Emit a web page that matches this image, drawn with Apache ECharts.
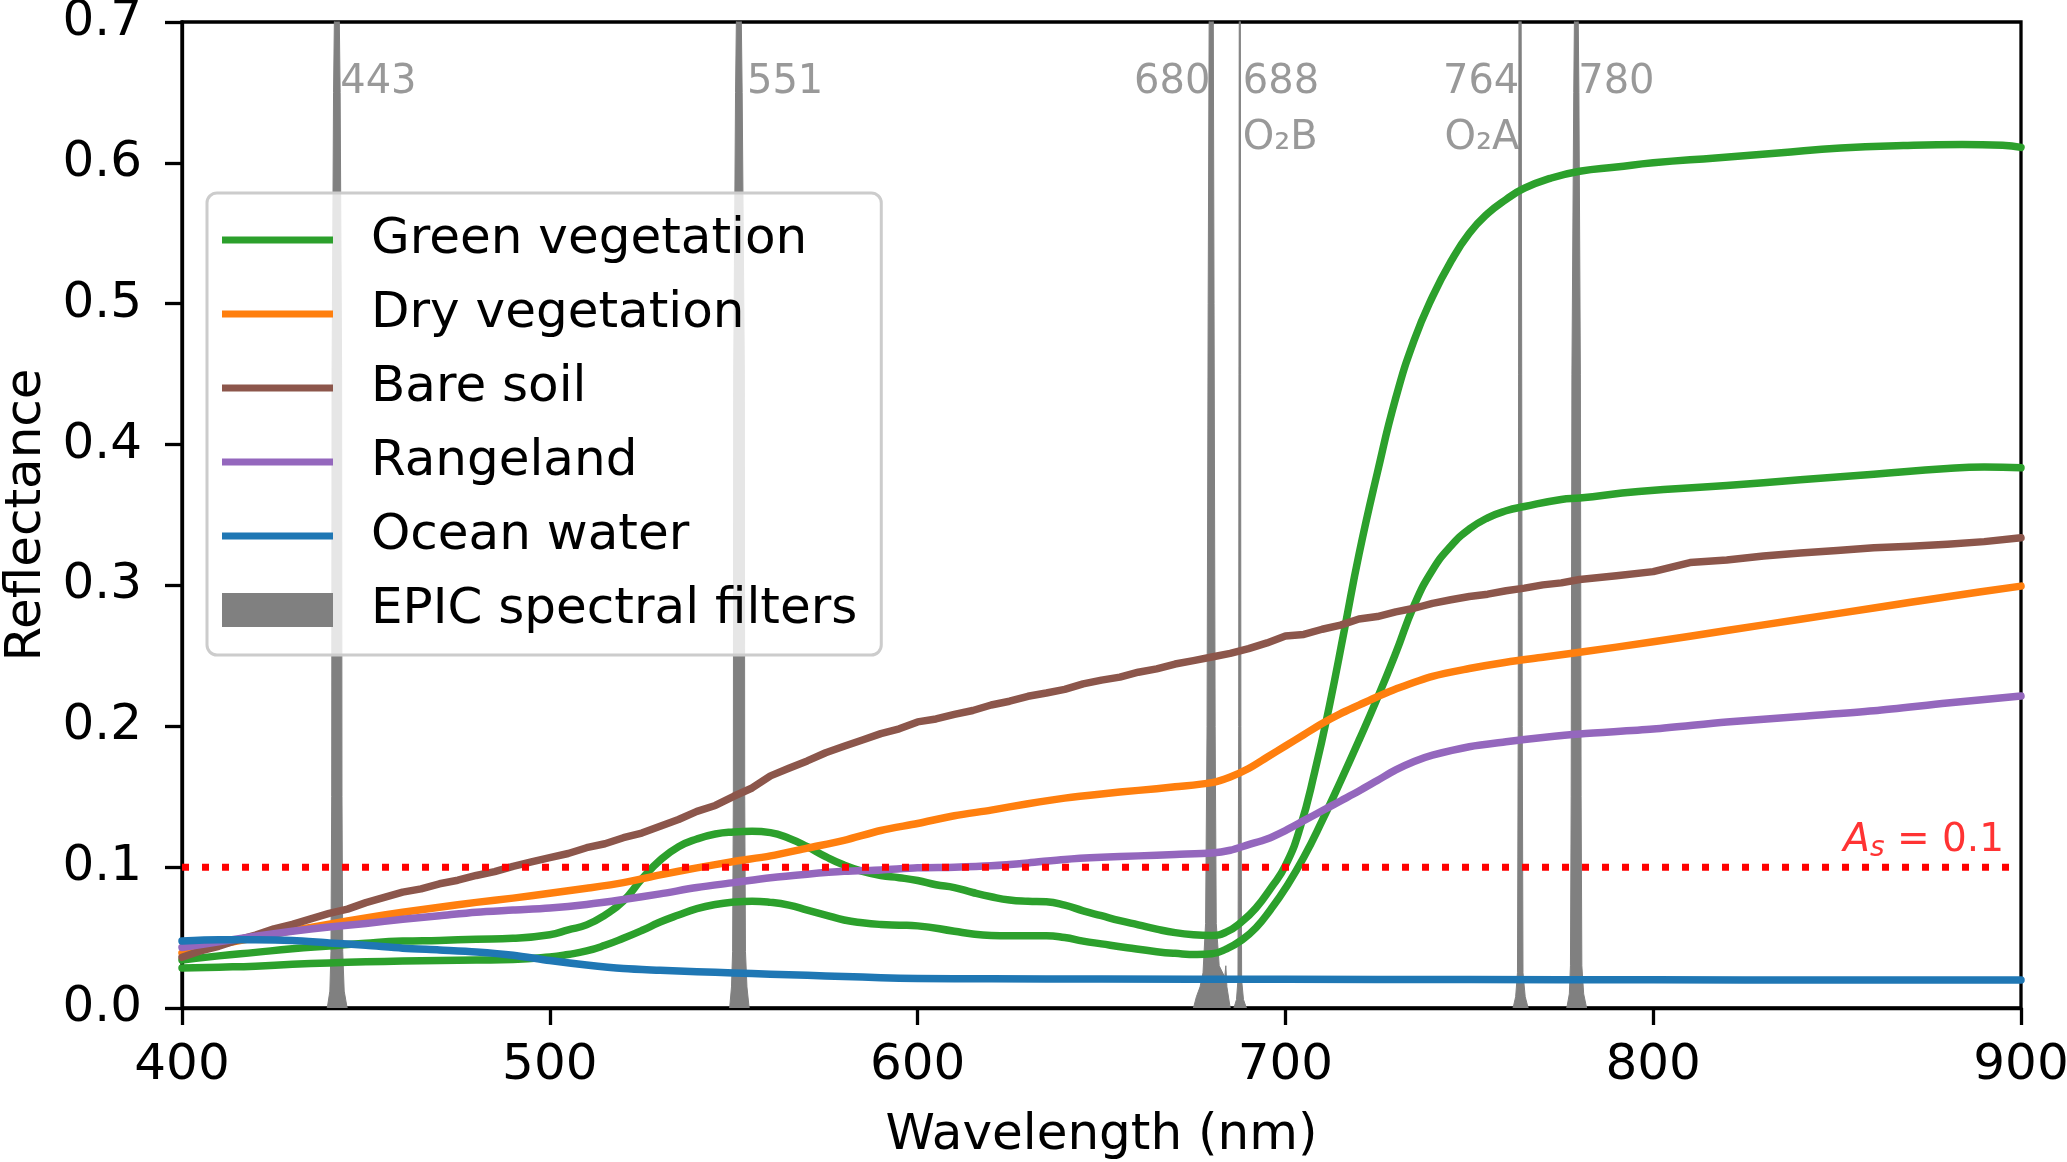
<!DOCTYPE html>
<html><head><meta charset="utf-8">
<script src="https://cdn.jsdelivr.net/npm/echarts@6.0.0/dist/echarts.min.js"></script>
<style>html,body{margin:0;padding:0;background:#fff}#c{width:2067px;height:1162px}</style>
</head><body><div id="c"></div>
<script>
// ---- data (wavelength nm, reflectance) ----
const greenVegA = [[400,0.034],[410,0.037],[420,0.0395],[430,0.042],[440,0.044],[450,0.046],[460,0.0475],[470,0.048],[480,0.0488],[490,0.0495],[500,0.052],[505,0.0555],[510,0.059],[515,0.066],[520,0.076],[525,0.0915],[530,0.105],[535,0.1145],[540,0.120],[545,0.1235],[550,0.125],[555,0.1255],[560,0.1245],[565,0.1205],[570,0.1145],[575,0.1075],[580,0.1015],[585,0.097],[590,0.094],[595,0.0925],[600,0.0905],[605,0.0875],[610,0.0855],[615,0.082],[620,0.079],[625,0.0767],[630,0.0758],[635,0.0754],[640,0.073],[645,0.069],[650,0.0655],[655,0.062],[660,0.059],[665,0.056],[670,0.0535],[675,0.052],[680,0.0515],[684,0.054],[688,0.061],[692,0.071],[696,0.085],[700,0.101],[704,0.128],[708,0.168],[712,0.215],[716,0.268],[720,0.322],[725,0.38],[730,0.433],[735,0.474],[740,0.505],[745,0.530],[750,0.550],[755,0.564],[760,0.574],[765,0.582],[772,0.589],[780,0.594],[790,0.597],[800,0.600],[817,0.6035],[834,0.607],[851,0.6105],[868,0.6123],[884,0.613],[895,0.6125],[900,0.611]];
const greenVegB = [[400,0.0284],[410,0.029],[420,0.0297],[430,0.031],[440,0.032],[450,0.0328],[460,0.0333],[470,0.0337],[480,0.034],[490,0.0344],[500,0.0362],[505,0.038],[510,0.0405],[515,0.0445],[520,0.0495],[525,0.055],[530,0.061],[535,0.066],[540,0.0705],[545,0.0735],[550,0.0752],[555,0.0758],[560,0.075],[565,0.073],[570,0.0695],[575,0.066],[580,0.0625],[585,0.0605],[590,0.0593],[595,0.0588],[600,0.0583],[610,0.0545],[615,0.0525],[620,0.0515],[625,0.0513],[635,0.0513],[640,0.050],[645,0.0475],[650,0.0455],[657,0.0428],[665,0.040],[670,0.0388],[676,0.038],[680,0.0385],[684,0.042],[688,0.048],[692,0.057],[696,0.070],[700,0.085],[705,0.107],[710,0.133],[715,0.161],[720,0.19],[725,0.22],[730,0.252],[735,0.286],[740,0.311],[745,0.328],[750,0.340],[755,0.348],[760,0.353],[765,0.356],[775,0.361],[780,0.362],[796,0.3667],[820,0.371],[840,0.375],[860,0.379],[880,0.383],[890,0.384],[900,0.3835]];
const dryVeg = [[400,0.039],[410,0.045],[420,0.050],[430,0.055],[440,0.0595],[450,0.064],[460,0.068],[470,0.0715],[480,0.075],[490,0.078],[500,0.0815],[510,0.085],[520,0.089],[530,0.0945],[540,0.0995],[550,0.104],[560,0.108],[570,0.1135],[580,0.119],[590,0.126],[600,0.131],[610,0.1365],[620,0.1405],[630,0.145],[640,0.149],[650,0.152],[660,0.1545],[670,0.157],[680,0.160],[685,0.164],[690,0.170],[695,0.178],[700,0.186],[705,0.194],[710,0.202],[715,0.209],[720,0.215],[725,0.221],[730,0.2265],[740,0.2355],[750,0.241],[760,0.2455],[770,0.249],[780,0.2525],[800,0.260],[820,0.268],[840,0.276],[860,0.284],[880,0.292],[900,0.2995]];
const bareSoil = [[400,0.036],[405,0.0405],[410,0.0438],[415,0.0482],[420,0.0518],[425,0.0562],[430,0.0594],[435,0.0633],[440,0.0672],[445,0.0702],[450,0.0748],[455,0.0786],[460,0.0823],[465,0.0846],[470,0.0882],[475,0.0907],[480,0.0941],[485,0.0968],[490,0.1006],[495,0.1038],[500,0.1068],[505,0.1097],[510,0.1138],[515,0.1166],[520,0.1209],[525,0.1242],[530,0.1291],[535,0.1338],[540,0.1396],[545,0.1438],[550,0.1503],[555,0.1562],[560,0.1648],[565,0.1702],[570,0.1754],[575,0.1812],[580,0.1858],[585,0.1903],[590,0.1948],[595,0.1982],[600,0.2031],[605,0.2052],[610,0.2084],[615,0.2112],[620,0.2151],[625,0.2178],[630,0.2213],[635,0.2236],[640,0.2262],[645,0.2301],[650,0.2328],[655,0.2349],[660,0.2384],[665,0.2408],[670,0.2442],[675,0.2466],[680,0.2492],[685,0.2518],[690,0.2551],[695,0.2592],[700,0.2641],[705,0.2652],[710,0.2689],[715,0.2718],[720,0.2762],[725,0.2779],[730,0.2812],[735,0.2838],[740,0.2873],[745,0.2898],[750,0.2921],[755,0.2938],[760,0.2962],[765,0.2981],[770,0.3004],[775,0.3018],[780,0.3042],[790,0.3068],[800,0.3098],[810,0.3162],[820,0.3181],[830,0.3209],[840,0.3231],[850,0.3248],[860,0.3268],[870,0.3279],[880,0.3293],[890,0.3311],[900,0.3338]];
const rangeland = [[400,0.043],[410,0.047],[420,0.051],[430,0.0545],[440,0.0575],[450,0.060],[460,0.063],[470,0.0655],[480,0.068],[490,0.0695],[500,0.071],[510,0.0735],[520,0.077],[530,0.081],[540,0.0855],[550,0.089],[560,0.0925],[570,0.095],[580,0.097],[590,0.098],[600,0.0995],[610,0.100],[620,0.101],[630,0.103],[640,0.1055],[650,0.107],[660,0.108],[670,0.109],[680,0.110],[685,0.112],[690,0.116],[695,0.120],[700,0.126],[705,0.133],[710,0.140],[715,0.147],[720,0.154],[725,0.1615],[730,0.169],[735,0.175],[740,0.1795],[750,0.1855],[760,0.189],[770,0.192],[780,0.1945],[800,0.198],[820,0.203],[840,0.207],[860,0.211],[880,0.2165],[900,0.2215]];
const oceanWater = [[400,0.0475],[410,0.0485],[420,0.0485],[430,0.048],[440,0.0462],[450,0.0445],[460,0.0425],[470,0.0412],[480,0.0398],[490,0.0375],[500,0.0337],[510,0.0305],[520,0.028],[530,0.0268],[540,0.0258],[550,0.0249],[560,0.024],[570,0.0232],[580,0.0224],[590,0.0215],[600,0.021],[620,0.0207],[650,0.0205],[700,0.0204],[750,0.0202],[800,0.020],[850,0.0199],[900,0.0198]];
// EPIC filter transmission profiles (normalised, peaks clipped by the 0.7 axis top)
const filter443 = [[439.5,0],[440.2,0.012],[440.5,0.04],[440.7,0.15],[440.8,0.45],[441.2,0.65],[442.1,0.85],[443.0,0.65],[443.4,0.45],[443.5,0.15],[443.7,0.04],[444.1,0.012],[444.9,0]];
const filter551 = [[548.9,0],[549.4,0.015],[549.7,0.04],[549.9,0.15],[550.0,0.45],[550.5,0.65],[551.4,0.85],[552.3,0.65],[552.9,0.45],[553.0,0.15],[553.2,0.04],[553.6,0.015],[554.2,0]];
const filter680 = [[675.0,0],[675.8,0.008],[676.8,0.015],[677.6,0.025],[678.3,0.06],[678.7,0.2],[679.0,0.5],[679.4,0.8],[679.8,1.0],[680.3,0.8],[680.6,0.5],[680.9,0.2],[681.2,0.06],[682.0,0.03],[683.5,0.022],[683.8,0.03],[684.1,0.015],[685.0,0]];
const filter688 = [[686.0,0],[686.7,0.006],[687.1,0.02],[687.3,0.2],[687.45,0.7],[687.6,1.0],[687.75,0.7],[687.9,0.2],[688.1,0.02],[688.6,0.006],[689.4,0]];
const filter764 = [[761.9,0],[762.6,0.008],[763.1,0.025],[763.3,0.2],[763.5,0.7],[763.8,1.0],[764.1,0.7],[764.4,0.2],[764.6,0.025],[765.2,0.008],[766.0,0]];
const filter780 = [[776.5,0],[777.2,0.01],[777.5,0.03],[777.7,0.15],[777.9,0.45],[778.4,0.65],[779.1,0.85],[779.8,0.65],[780.2,0.45],[780.4,0.15],[780.6,0.03],[781.1,0.01],[781.9,0]];
const filters = [filter443, filter551, filter680, filter688, filter764, filter780];
const filterLabelX = [442.6, 553.2, 680, 688, 764, 779.2];
const filterLabels = ['443', '551', '680', '688\nO\u2082B', '764\nO\u2082A', '780'];
const filterLabelSide = ['right', 'right', 'left', 'right', 'left', 'right'];
const albedoLine = [[400, 0.1], [900, 0.1]];
const xTicks = {min: 400, max: 900, step: 100};
const yTicks = {min: 0, max: 0.7, step: 0.1};
const legendNames = ['Green vegetation', 'Dry vegetation', 'Bare soil', 'Rangeland', 'Ocean water', 'EPIC spectral filters'];

const F = 'DejaVu Sans';
const LW = 7.5;
const FS = 50;
const chart = echarts.init(document.getElementById('c'), null, {renderer: 'canvas'});

function curve(name, data, color, smooth) {
  return {type: 'line', name, data, smooth: smooth, symbol: 'none', showSymbol: false, color,
    itemStyle: {color}, lineStyle: {color, width: LW, join: 'round', cap: 'round'}, z: 3, silent: true};
}

const series = [];
filters.forEach(f => series.push({
  type: 'line', name: legendNames[5], data: f, symbol: 'none', showSymbol: false, color: '#808080',
  itemStyle: {color: '#808080'},
  lineStyle: {color: '#808080', width: 1}, areaStyle: {color: '#808080', opacity: 1}, z: 1, silent: true
}));
series.push(curve(legendNames[0], greenVegA, '#2ca02c', 0.5));
series.push(curve(legendNames[0], greenVegB, '#2ca02c', 0.5));
series.push(curve(legendNames[1], dryVeg, '#ff7f0e', 0.3));
series.push(curve(legendNames[2], bareSoil, '#8c564b', false));
series.push(curve(legendNames[3], rangeland, '#9467bd', 0.3));
series.push(curve(legendNames[4], oceanWater, '#1f77b4', 0.3));
series.push({type: 'line', name: 'albedo', data: albedoLine, symbol: 'none', showSymbol: false,
  lineStyle: {color: '#ff0000', width: 7, type: [7, 13], cap: 'butt'}, z: 4, silent: true});
series.push({type: 'scatter', name: 'albedoLabel', data: [albedoLine[1]], symbolSize: 1,
  itemStyle: {color: 'rgba(0,0,0,0)'}, silent: true, z: 6,
  label: {show: true, position: 'top', align: 'right', distance: 4, offset: [-17, 0],
    formatter: '{a|A}{s|s}{b| = 0.1}',
    rich: {
      a: {fontFamily: F, fontStyle: 'italic', fontSize: 39, lineHeight: 39, color: '#ff0000', padding: [0, 0, 2, 0], verticalAlign: 'bottom'},
      s: {fontFamily: F, fontStyle: 'italic', fontSize: 28, lineHeight: 28, color: '#ff0000', verticalAlign: 'bottom'},
      b: {fontFamily: F, fontSize: 39, lineHeight: 39, color: '#ff0000', padding: [0, 0, 2, 0], verticalAlign: 'bottom'}
    }}});
series.push({type: 'scatter', name: 'filterLabels', symbolSize: 1, itemStyle: {color: 'rgba(0,0,0,0)'}, silent: true, z: 6,
  data: filterLabelX.map((c, i) => ({value: [c, 0.677], label: {position: filterLabelSide[i], formatter: filterLabels[i]}})),
  label: {show: true, color: '#808080', fontFamily: F, fontSize: 40, lineHeight: 56, verticalAlign: 'top', distance: 1}});

const axisCommon = {
  axisLine: {show: true, onZero: false, lineStyle: {color: '#000', width: 3.3}},
  axisTick: {show: true, inside: false, length: 17, lineStyle: {color: '#000', width: 3.3}},
  splitLine: {show: false},
};

const lineIcon = 'path://M0 0H111V7H0Z';
chart.setOption({
  animation: false,
  backgroundColor: '#fff',
  grid: {left: 182, right: 46, top: 22, bottom: 154, show: true, borderColor: '#000', borderWidth: 3.3,
    containLabel: false, outerBoundsMode: 'none'},
  legend: {
    orient: 'vertical', left: 207, top: 193, padding: [22, 24, 20, 15],
    itemWidth: 111, itemHeight: 34, itemGap: 24, selectedMode: false, symbolKeepAspect: true,
    itemStyle: {borderWidth: 0},
    backgroundColor: 'rgba(255,255,255,0.8)', borderColor: '#cccccc', borderWidth: 3, borderRadius: 10,
    textStyle: {fontSize: FS, fontFamily: F, color: '#000', padding: [0, 0, 0, 33]},
    data: legendNames.map((n, i) => ({name: n, icon: i === 5 ? 'rect' : lineIcon}))
  },
  xAxis: Object.assign({
    type: 'value', min: xTicks.min, max: xTicks.max, interval: xTicks.step,
    name: 'Wavelength (nm)', nameLocation: 'middle', nameGap: 103,
    nameTextStyle: {fontSize: FS, fontFamily: F, color: '#000'},
    axisLabel: {fontSize: FS, fontFamily: F, color: '#000', margin: 33}
  }, axisCommon),
  yAxis: Object.assign({
    type: 'value', min: yTicks.min, max: yTicks.max, interval: yTicks.step,
    name: 'Reflectance', nameLocation: 'middle', nameGap: 129,
    nameTextStyle: {fontSize: FS, fontFamily: F, color: '#000'},
    axisLabel: {fontSize: FS, fontFamily: F, color: '#000', margin: 40, formatter: v => v.toFixed(1)}
  }, axisCommon),
  series
});
</script></body></html>
